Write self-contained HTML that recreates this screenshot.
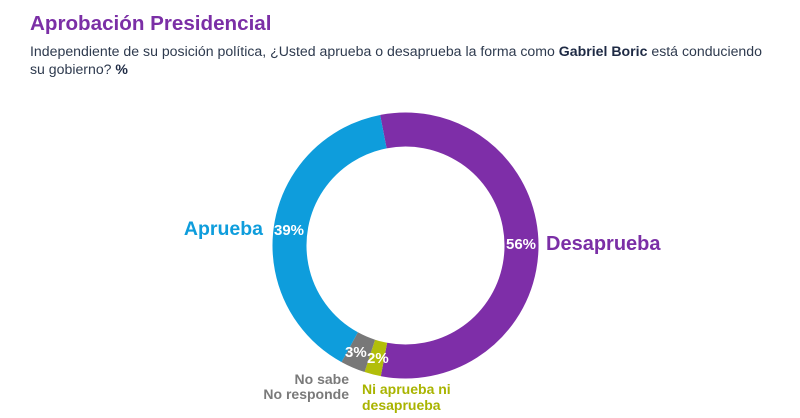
<!DOCTYPE html>
<html><head><meta charset="utf-8"><style>
body{margin:0;background:#fff;width:800px;height:418px;overflow:hidden}
svg{display:block}
text{font-family:"Liberation Sans",sans-serif}
</style></head><body>
<svg width="800" height="418" viewBox="0 0 800 418">
<text x="30" y="30" font-size="20.6" font-weight="bold" fill="#7B2FA6">Aprobación Presidencial</text>
<text x="30" y="56" font-size="14.1" fill="#2E3A4E" textLength="732" lengthAdjust="spacingAndGlyphs">Independiente de su posición política, ¿Usted aprueba o desaprueba la forma como <tspan font-weight="bold" fill="#1E2A44">Gabriel Boric</tspan> está conduciendo</text>
<text x="30" y="74" font-size="14.1" fill="#2E3A4E">su gobierno? <tspan font-weight="bold" fill="#1E2A44">%</tspan></text>
<g transform="translate(405.5,245.5) rotate(-101)">
<circle r="116" fill="none" stroke="#7E2EA8" stroke-width="34" stroke-dasharray="408.2 1000" stroke-dashoffset="0"/>
<circle r="116" fill="none" stroke="#B2BE0A" stroke-width="34" stroke-dasharray="14.6 1000" stroke-dashoffset="-408.2"/>
<circle r="116" fill="none" stroke="#787878" stroke-width="34" stroke-dasharray="21.9 1000" stroke-dashoffset="-422.8"/>
<circle r="116" fill="none" stroke="#0E9DDC" stroke-width="34" stroke-dasharray="284.3 1000" stroke-dashoffset="-444.7"/>
</g>
<g font-weight="bold" fill="#fff" font-size="15">
<text x="506" y="249">56%</text>
<text x="274" y="235">39%</text>
<text x="345" y="357">3%</text>
<text x="367" y="363">2%</text>
</g>
<text x="546" y="250" font-size="20" font-weight="bold" fill="#7B2FA6">Desaprueba</text>
<text x="263" y="235" font-size="19.5" font-weight="bold" fill="#0E9DDC" text-anchor="end">Aprueba</text>
<g font-size="14" font-weight="bold" fill="#7A7A7A" text-anchor="end">
<text x="349" y="384">No sabe</text>
<text x="349" y="399">No responde</text>
</g>
<g font-size="14" font-weight="bold" fill="#A9B400">
<text x="362" y="394">Ni aprueba ni</text>
<text x="362" y="410">desaprueba</text>
</g>
</svg>
</body></html>
